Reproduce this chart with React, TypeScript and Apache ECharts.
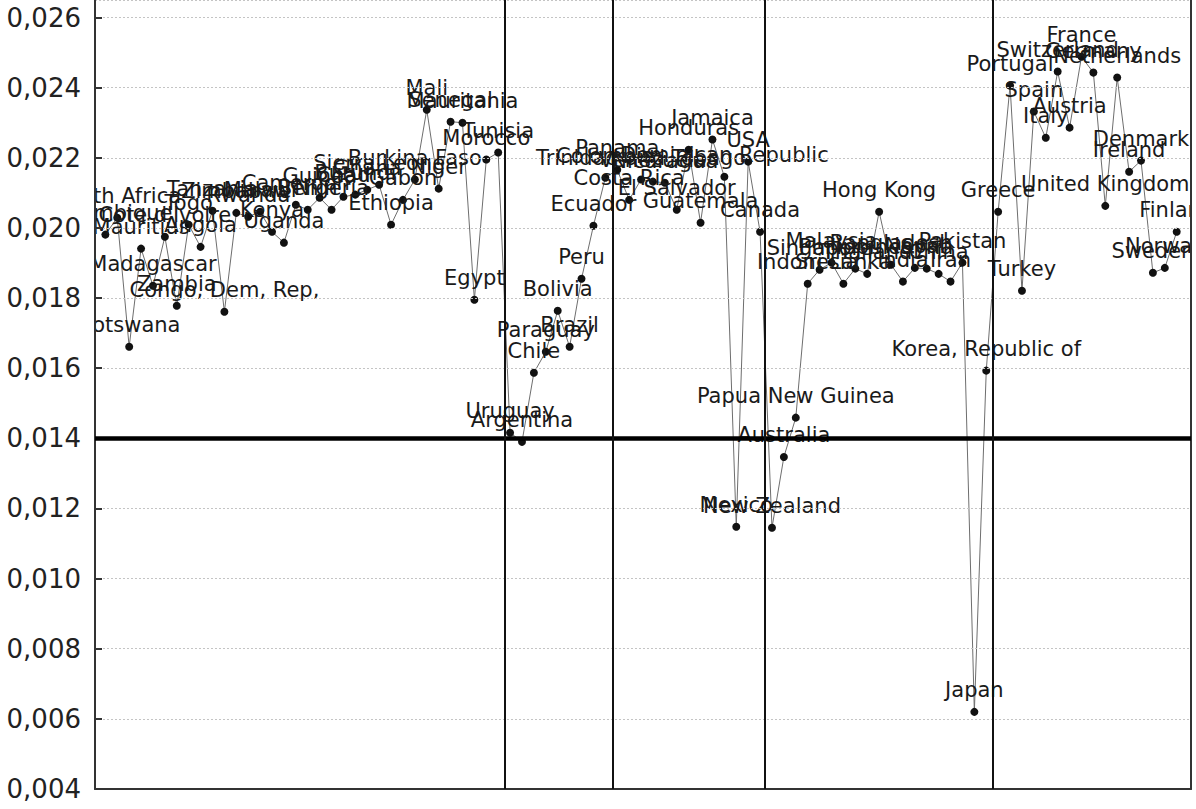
import React, { useEffect, useRef } from "react";
import * as echarts from "echarts";

const countries = [
  "Mozambique", "South Africa", "Botswana", "Mauritius", "Madagascar", "Cote d'Ivoire", "Zambia", "Togo",
  "Angola", "Tanzania", "Congo, Dem, Rep,", "Zimbabwe", "Rwanda", "Malawi", "Kenya", "Uganda",
  "Cameroon", "Benin", "Guinea", "Nigeria", "Chad", "Burundi", "Ghana", "Sierra Leone",
  "Ethiopia", "Gabon", "Burkina Faso", "Mali", "Niger", "Senegal", "Mauritania", "Egypt",
  "Morocco", "Tunisia",
  "Uruguay", "Argentina", "Chile", "Paraguay", "Bolivia", "Brazil", "Peru", "Ecuador", "Colombia",
  "Panama", "Costa Rica", "Trinidad and Tobago", "Venezuela", "Nicaragua", "El Salvador", "Honduras",
  "Guatemala", "Jamaica", "Dominican Republic", "Mexico", "USA", "Canada",
  "New Zealand", "Australia", "Papua New Guinea", "Indonesia", "Singapore", "Malaysia", "Sri Lanka",
  "Philippines", "Thailand", "Hong Kong", "Bangladesh", "India", "Nepal", "Syria", "China", "Iran",
  "Pakistan", "Japan", "Korea, Republic of",
  "Greece", "Portugal", "Turkey", "Spain", "Italy", "Switzerland", "Austria", "France", "Germany",
  "United Kingdom", "Netherlands", "Ireland", "Denmark", "Sweden", "Norway", "Finland",
];

const values = [
  0.01981, 0.02029, 0.01661, 0.01941, 0.01835, 0.01975, 0.01778, 0.02009,
  0.01946, 0.02049, 0.01761, 0.02043, 0.02032, 0.02046, 0.01989, 0.01958,
  0.02066, 0.02052, 0.02086, 0.02052, 0.02089, 0.02095, 0.02109, 0.02123,
  0.02009, 0.0208, 0.02138, 0.02337, 0.02112, 0.02303, 0.023, 0.01795,
  0.02195, 0.02215,
  0.01416, 0.0139, 0.01587, 0.01647, 0.01764, 0.01661, 0.01855, 0.02006, 0.02143,
  0.02166, 0.0208, 0.02138, 0.02132, 0.02129, 0.02052, 0.02223,
  0.02015, 0.02252, 0.02146, 0.01148, 0.02189, 0.01989,
  0.01145, 0.01347, 0.01459, 0.01841, 0.01881, 0.01901, 0.01841,
  0.01884, 0.01869, 0.02046, 0.01895, 0.01847, 0.01886, 0.01884, 0.01869, 0.01847,
  0.01901, 0.0062, 0.01593,
  0.02046, 0.02406, 0.01821, 0.02332, 0.02257, 0.02446, 0.02286, 0.02488, 0.02443,
  0.02063, 0.02429, 0.0216, 0.02192, 0.01872, 0.01886, 0.01989,
];

// region separators, in point-index units
const separators = [33.55, 42.6, 55.4, 74.55];
const referenceLevel = 0.014;
const yMin = 0.004;
const yMax = 0.0265;
const yStep = 0.002;
const xMin = -0.87;
const xMax = 91.2;

const FONT = "'DejaVu Sans', Verdana, sans-serif";

const fmt = (v: number) => {
  const k = v / yStep;
  if (Math.abs(k - Math.round(k)) > 1e-6) return "";
  return v.toFixed(3).replace(".", ",");
};

export default function App() {
  const ref = useRef<HTMLDivElement>(null);
  useEffect(() => {
    if (!ref.current) return;
    const chart = echarts.init(ref.current, undefined, { renderer: "svg" });
    const data = values.map((v, i) => [i, v]);
    chart.setOption({
      animation: false,
      backgroundColor: "#fff",
      grid: { left: 95, right: 5, top: 0, bottom: 20, containLabel: false },
      xAxis: {
        type: "value",
        min: xMin,
        max: xMax,
        axisLine: { show: true, onZero: false, lineStyle: { color: "#333", width: 2 } },
        axisTick: { show: false },
        axisLabel: { show: false },
        splitLine: { show: false },
        z: 20,
      },
      yAxis: [
        {
          type: "value",
          min: yMin,
          max: yMax,
          interval: yStep,
          axisLine: { show: true, onZero: false, lineStyle: { color: "#333", width: 2 } },
          axisTick: { show: true, inside: true, length: 7, lineStyle: { color: "#333", width: 2 } },
          axisLabel: {
            formatter: fmt,
            fontFamily: FONT,
            fontSize: 26,
            color: "#222",
            margin: 14,
            showMaxLabel: false,
          },
          splitLine: { show: true, lineStyle: { color: "#c4c4c4", type: [2, 2], width: 1 } },
          z: 20,
        },
        {
          type: "value",
          position: "right",
          min: yMin,
          max: yMax,
          interval: yStep,
          axisLine: { show: true, onZero: false, lineStyle: { color: "#333", width: 2 } },
          axisTick: { show: false },
          axisLabel: { show: false },
          splitLine: { show: false },
          z: 20,
        },
      ],
      graphic: [
        { type: "rect", z: 10, shape: { x: 0, y: 0, width: 94, height: 809 }, style: { fill: "#fff" } },
        { type: "rect", z: 10, shape: { x: 1192, y: 0, width: 10, height: 809 }, style: { fill: "#fff" } },
      ],
      series: [
        {
          type: "line",
          data,
          z: 2,
          symbol: "circle",
          symbolSize: 8,
          itemStyle: { color: "#111" },
          lineStyle: { color: "#6e6e6e", width: 1 },
          label: {
            show: true,
            position: "top",
            distance: 7,
            fontFamily: FONT,
            fontSize: 21,
            color: "#1a1a1a",
            formatter: (p: any) => countries[p.dataIndex],
          },
          labelLayout: { hideOverlap: false },
        },
        {
          type: "line",
          data: [],
          z: 30,
          markLine: {
            silent: true,
            symbol: "none",
            precision: 6,
            label: { show: false },
            z: 30,
            data: [
              { yAxis: referenceLevel, lineStyle: { color: "#000", width: 4.5, type: "solid" } },
              ...separators.map((s) => ({ xAxis: s, lineStyle: { color: "#111", width: 2, type: "solid" } })),
            ],
          },
        },
      ],
    });
    return () => chart.dispose();
  }, []);
  return <div ref={ref} style={{ position: "fixed", left: 0, top: 0, width: 1196, height: 809 }} />;
}
